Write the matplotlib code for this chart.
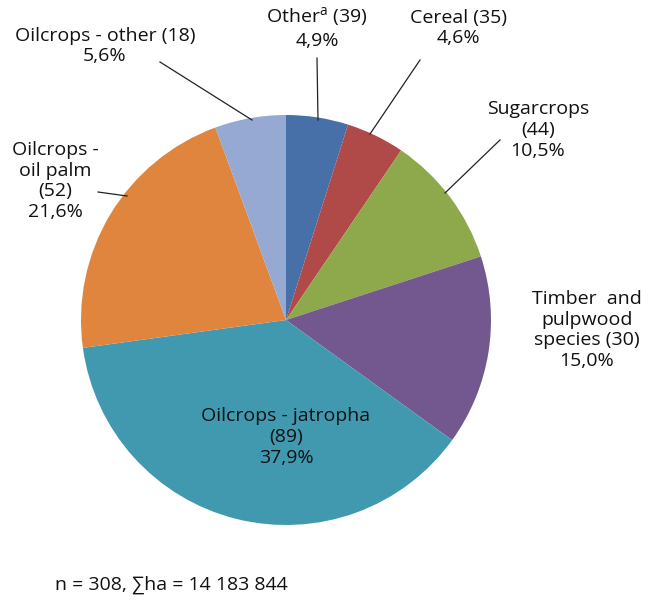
import matplotlib
matplotlib.use("Agg")
import matplotlib.pyplot as plt

categories = ["Other", "Cereal", "Sugarcrops", "Timber and pulpwood species",
              "Oilcrops - jatropha", "Oilcrops - oil palm", "Oilcrops - other"]
shares = [4.9, 4.6, 10.5, 15.0, 37.9, 21.6, 5.6]
counts = [39, 35, 44, 30, 89, 52, 18]
colors = ["#4770A8", "#B04A48", "#8DA94C", "#73588F", "#4199B0", "#DF853D", "#95A9D3"]

plt.rcParams['font.family'] = ['Open Sans', 'DejaVu Sans']
W, H = 649, 606
fig = plt.figure(figsize=(W/100, H/100), dpi=100)
cx, cy, r = 286, 320, 205
ax = fig.add_axes([(cx-r)/W, (H-cy-r)/H, 2*r/W, 2*r/H])
ax.pie(shares, colors=colors, startangle=90, counterclock=False,
       wedgeprops=dict(linewidth=0))
ax.set_xlim(-1, 1); ax.set_ylim(-1, 1); ax.set_aspect('equal'); ax.axis('off')

def px(x, y):
    return x/W, 1 - y/H

fs = 14
def label(x, y, s, ha="center"):
    fig.text(*px(x, y), s, ha=ha, va="center", fontsize=fs, linespacing=1.2, color="#111111")

label(317, 28, "Other$^{\\mathregular{a}}$ (%d)\n%s%%" % (counts[0], str(shares[0]).replace('.', ',')))
label(458, 28, "Cereal (%d)\n%s%%" % (counts[1], str(shares[1]).replace('.', ',')))
label(538, 130, "Sugarcrops\n(%d)\n%s%%" % (counts[2], str(shares[2]).replace('.', ',')))
label(587, 330, "Timber  and\npulpwood\nspecies (%d)\n%s%%" % (counts[3], str(shares[3]).replace('.', ',')))
label(286, 437, "Oilcrops - jatropha\n(%d)\n%s%%" % (counts[4], str(shares[4]).replace('.', ',')))
label(55, 181, "Oilcrops -\noil palm\n(%d)\n%s%%" % (counts[5], str(shares[5]).replace('.', ',')))
label(105, 46, "Oilcrops - other (%d)\n%s%%" % (counts[6], str(shares[6]).replace('.', ',')))
fig.text(*px(55, 585), "n = 308, ∑ha = 14 183 844", ha="left", va="center", fontsize=fs, color="#111111")

lines = [((317, 58), (318, 120)), ((420, 60), (370, 134)), ((500, 140), (445, 193)),
         ((160, 62), (252, 120)), ((98, 192), (127, 196))]
for (x1, y1), (x2, y2) in lines:
    fig.add_artist(plt.Line2D([x1/W, x2/W], [1-y1/H, 1-y2/H], color="#222222", lw=0.9))

fig.savefig("out.png", dpi=100)
